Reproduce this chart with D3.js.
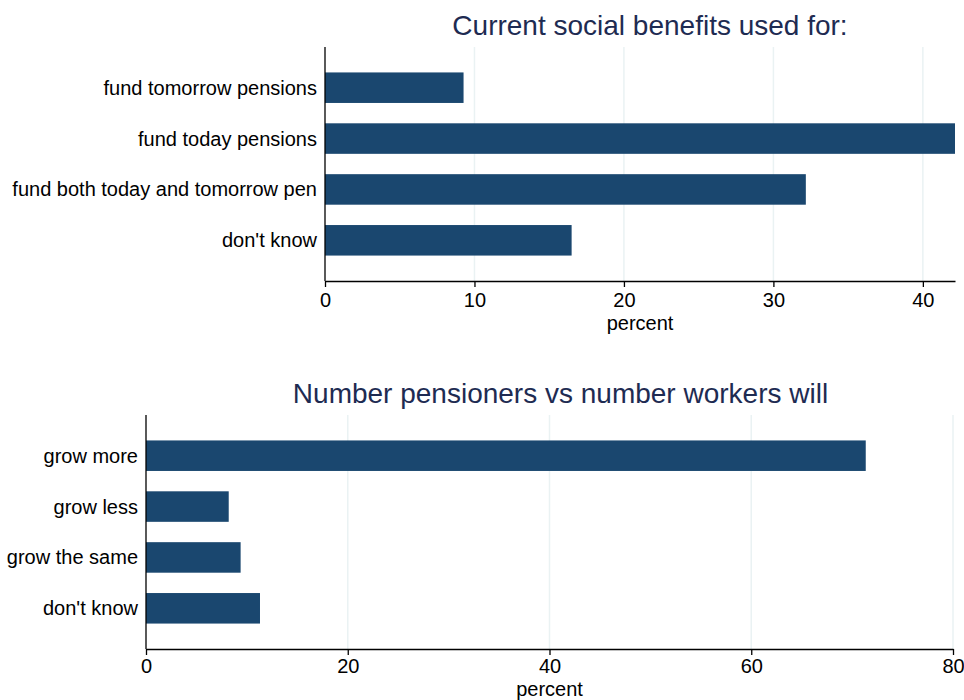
<!DOCTYPE html>
<html lang="en">
<head>
    <meta charset="UTF-8">
    <title>Current social benefits / pensioners vs workers</title>
    <script src="https://d3js.org/d3.v7.min.js"></script>
    <style>
        body {
            margin: 0;
            background: #fff;
            font-family: "Liberation Sans", Arial, sans-serif;
        }
        .cat-label, .tick-label, .axis-title {
            font-size: 20px;
            fill: #000;
        }
        .chart-title {
            font-size: 28px;
            fill: #1e2b52;
            text-anchor: middle;
        }
        .grid {
            stroke: #eaf2f3;
            stroke-width: 1.5px;
        }
        .bar {
            fill: #1a476f;
        }
    </style>
</head>
<body>
    <svg id="chart" width="964" height="700"></svg>

    <script>
        // top panel data
        const benefitTitle = "Current social benefits used for:";
        const benefitCategories = ["fund tomorrow pensions", "fund today pensions", "fund both today and tomorrow pen", "don't know"];
        const benefitPercents = [9.27, 42.15, 32.17, 16.5];
        const benefitTicks = [0, 10, 20, 30, 40];

        // bottom panel data
        const workerTitle = "Number pensioners vs number workers will";
        const workerCategories = ["grow more", "grow less", "grow the same", "don't know"];
        const workerPercents = [71.35, 8.2, 9.38, 11.3];
        const workerTicks = [0, 20, 40, 60, 80];

        const svg = d3.select("#chart");

        // left/right = x-axis pixel span, top/bottom = plot region
        drawPanel({left: 325, right: 955, top: 47, bottom: 281, tickPad: 6, labelGap: 49},
            benefitTitle, benefitCategories, benefitPercents, benefitTicks);
        // bottom panel runs into the picture edge, so its tick labels and
        // "percent" are squeezed a little to keep both inside
        drawPanel({left: 146, right: 953, top: 415, bottom: 649, tickPad: 3.5, labelGap: 46.6},
            workerTitle, workerCategories, workerPercents, workerTicks);

        function drawPanel(box, title, categories, values, ticks) {
            const g = svg.append("g");
            const maxX = Math.max(d3.max(values), d3.max(ticks));

            const x = d3.scaleLinear().domain([0, maxX]).range([box.left, box.right]);
            const y = d3.scaleBand()
                .domain(categories)
                .range([box.top, box.bottom])
                .paddingInner(0.4)
                .paddingOuter(0.5);

            // gridlines
            g.selectAll(".grid")
                .data(ticks.filter(t => t > 0))
                .join("line")
                .attr("class", "grid")
                .attr("x1", d => x(d)).attr("x2", d => x(d))
                .attr("y1", box.top).attr("y2", box.bottom);

            // bars
            g.selectAll(".bar")
                .data(values)
                .join("rect")
                .attr("class", "bar")
                .attr("x", x(0))
                .attr("y", (d, i) => y(categories[i]))
                .attr("width", d => x(d) - x(0))
                .attr("height", y.bandwidth());

            // category labels
            g.selectAll(".cat-label")
                .data(categories)
                .join("text")
                .attr("class", "cat-label")
                .attr("x", box.left - 8)
                .attr("y", d => y(d) + y.bandwidth() / 2)
                .attr("dy", "0.35em")
                .attr("text-anchor", "end")
                .text(d => d);

            // x axis
            const xAxis = g.append("g")
                .attr("transform", `translate(0,${box.bottom})`)
                .call(d3.axisBottom(x).tickValues(ticks).tickSize(6).tickPadding(box.tickPad).tickSizeOuter(0));
            xAxis.select(".domain").attr("stroke", "#000").attr("stroke-width", 1.3);
            xAxis.selectAll(".tick line").attr("stroke", "#000").attr("stroke-width", 1.3);
            xAxis.selectAll(".tick text")
                .attr("class", "tick-label")
                .style("font-family", "Liberation Sans, Arial, sans-serif")
                .style("font-size", "20px");

            // y axis line
            g.append("line")
                .attr("x1", box.left).attr("x2", box.left)
                .attr("y1", box.top).attr("y2", box.bottom)
                .attr("stroke", "#000")
                .attr("stroke-width", 1.3);

            g.append("text")
                .attr("class", "axis-title")
                .attr("x", (box.left + box.right) / 2)
                .attr("y", box.bottom + box.labelGap)
                .attr("text-anchor", "middle")
                .text("percent");

            g.append("text")
                .attr("class", "chart-title")
                .attr("x", (box.left + 975) / 2)
                .attr("y", box.top - 12.5)
                .text(title);
        }
    </script>
</body>
</html>
